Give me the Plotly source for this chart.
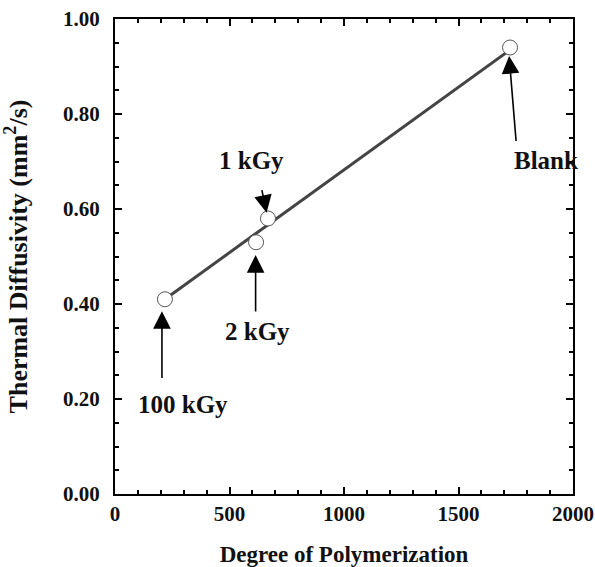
import plotly.graph_objects as go

# Data
labels = ["100 kGy", "2 kGy", "1 kGy", "Blank"]
dp = [218, 616, 668, 1725]
diffusivity = [0.41, 0.53, 0.58, 0.94]
fit_x = [218, 1725]
fit_y = [0.41, 0.935]

# label placement (data coords) and arrow tail/head
label_pos = {"100 kGy": (296, 0.188), "2 kGy": (623, 0.342), "1 kGy": (597, 0.702), "Blank": (1882, 0.702)}
arrow_tail = {"100 kGy": (205, 0.241), "2 kGy": (614, 0.381), "1 kGy": (640, 0.643), "Blank": (1752, 0.740)}
arrow_head = {"100 kGy": (205, 0.385), "2 kGy": (614, 0.503), "1 kGy": (662, 0.592), "Blank": (1721, 0.922)}

FONT = "Liberation Serif"

fig = go.Figure()
fig.add_trace(go.Scatter(x=fit_x, y=fit_y, mode="lines",
                         line=dict(color="#444444", width=3), showlegend=False))
fig.add_trace(go.Scatter(x=dp, y=diffusivity, mode="markers",
                         marker=dict(symbol="circle", size=15, color="white",
                                     line=dict(color="#555555", width=1)),
                         showlegend=False))

for lab in labels:
    tx, ty = arrow_tail[lab]
    hx, hy = arrow_head[lab]
    fig.add_annotation(x=hx, y=hy, ax=tx, ay=ty, xref="x", yref="y", axref="x", ayref="y",
                       text="", showarrow=True, arrowhead=2, arrowsize=2.2, arrowwidth=1.6,
                       arrowcolor="black")
    lx, ly = label_pos[lab]
    fig.add_annotation(x=lx, y=ly, xref="x", yref="y", text="<b>%s</b>" % lab,
                       showarrow=False, font=dict(family=FONT, size=25, color="#111"))

axis_common = dict(showline=True, linecolor="black", linewidth=2, mirror="ticks",
                   ticks="inside", ticklen=7, tickcolor="black", tickwidth=1.5,
                   showgrid=False, zeroline=False, automargin=False,
                   ticklabeloverflow="allow",
                   tickfont=dict(family=FONT, size=21, color="#111"))

fig.update_xaxes(range=[0, 2000], tickvals=[0, 500, 1000, 1500, 2000],
                 ticktext=["<b>0</b>", "<b>500</b>", "<b>1000</b>", "<b>1500</b>", "<b>2000</b>"],
                 minor=dict(ticks="inside", ticklen=4, tickcolor="black", dtick=100, tick0=0),
                 title=dict(text="<b>Degree of Polymerization</b>", standoff=28,
                            font=dict(family=FONT, size=23, color="#111")),
                 **axis_common)
fig.update_yaxes(range=[0, 1.0], tickvals=[0, 0.2, 0.4, 0.6, 0.8, 1.0],
                 ticktext=["<b>0.00</b>", "<b>0.20</b>", "<b>0.40</b>", "<b>0.60</b>", "<b>0.80</b>", "<b>1.00</b>"],
                 minor=dict(ticks="inside", ticklen=4, tickcolor="black", dtick=0.05, tick0=0),
                 ticklabelstandoff=9,
                 title=dict(text="<b>Thermal Diffusivity (mm<sup>2</sup>/s)</b>", standoff=32,
                            font=dict(family=FONT, size=26, color="#111")),
                 **axis_common)

fig.update_layout(width=595, height=567, plot_bgcolor="white", paper_bgcolor="white",
                  margin=dict(l=115, r=22, t=19, b=73))
fig.write_html("out.html")
